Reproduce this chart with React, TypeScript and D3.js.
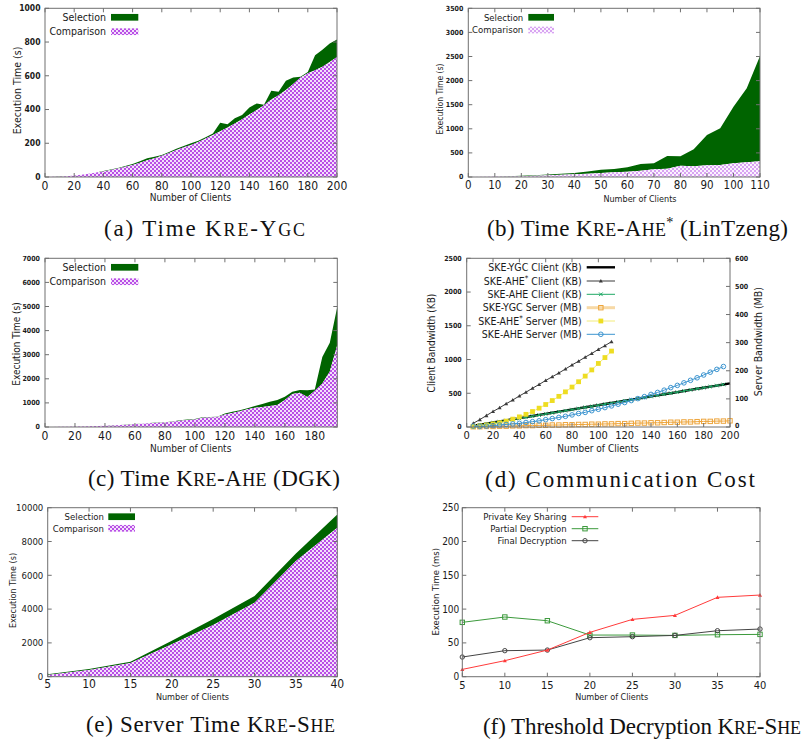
import React from "react";
import * as d3 from "d3";

const SANS = "'DejaVu Sans Condensed', 'DejaVu Sans', Verdana, sans-serif";
const SERIF = "'Liberation Serif', 'Times New Roman', serif";
const GREEN = "#006400";
const AXIS = "#707070";
const INK = "#1a1a1a";

// (a) Kre-Ygc
const clientsA = [0, 5, 10, 15, 20, 25, 30, 35, 40, 45, 50, 55, 60, 65, 70, 75, 80, 85, 90, 95, 100, 105, 110, 115, 120, 125, 130, 135, 140, 145, 150, 155, 160, 165, 170, 175, 180, 185, 190, 195, 200];
const comparisonA = [0, 1, 2, 5, 9, 13, 19, 26, 33, 42, 51, 61, 71, 85, 99, 111, 126, 142, 160, 176, 190, 208, 228, 249, 271, 293, 317, 343, 371, 397, 426, 460, 485, 516, 552, 590, 615, 633, 653, 682, 712];
const selectionA = [0, 0, 1, 0, 0, 1, 1, 1, 2, 2, 3, 4, 6, 8, 12, 9, 4, 6, 8, 8, 10, 7, 7, 9, 50, 19, 31, 24, 41, 39, 2, 51, 20, 54, 38, 4, 8, 89, 102, 109, 103];
const xTicksA = [0, 20, 40, 60, 80, 100, 120, 140, 160, 180, 200];
const yTicksA = [0, 200, 400, 600, 800, 1000];

// (b) Kre-Ahe* (LinTzeng)
const clientsB = [0, 5, 10, 15, 20, 25, 30, 35, 40, 45, 50, 55, 60, 65, 70, 75, 80, 85, 90, 95, 100, 105, 110];
const comparisonB = [0, 4, 8, 12, 18, 25, 35, 45, 55, 70, 83, 97, 110, 131, 159, 172, 235, 221, 242, 249, 284, 305, 325];
const selectionB = [0, 2, 4, 6, 7, 10, 15, 20, 30, 45, 69, 69, 91, 139, 125, 264, 194, 353, 629, 761, 1176, 1535, 2185];
const xTicksB = [0, 10, 20, 30, 40, 50, 60, 70, 80, 90, 100, 110];
const yTicksB = [0, 500, 1000, 1500, 2000, 2500, 3000, 3500];

// (c) Kre-Ahe (DGK)
const clientsC = [0, 5, 10, 15, 20, 25, 30, 35, 40, 45, 50, 55, 60, 65, 70, 75, 80, 85, 90, 95, 100, 105, 110, 115, 120, 125, 130, 135, 140, 145, 150, 155, 160, 165, 170, 175, 180, 185, 190, 195];
const comparisonC = [0, 3, 7, 11, 18, 23, 32, 42, 50, 65, 80, 95, 110, 130, 160, 180, 190, 215, 260, 290, 310, 380, 390, 410, 520, 580, 650, 740, 800, 830, 871, 913, 1120, 1369, 1425, 1240, 1500, 1800, 2300, 3400];
const selectionC = [0, 1, 1, 1, 2, 2, 3, 3, 5, 5, 5, 5, 10, 10, 10, 10, 10, 15, 20, 20, 20, 20, 20, 20, 40, 50, 50, 40, 70, 120, 179, 207, 138, 97, 110, 290, 60, 1100, 1200, 1590];
const xTicksC = [0, 20, 40, 60, 80, 100, 120, 140, 160, 180];
const yTicksC = [0, 1000, 2000, 3000, 4000, 5000, 6000, 7000];

// (d) communication cost
const clientsD = [5, 10, 15, 20, 25, 30, 35, 40, 45, 50, 55, 60, 65, 70, 75, 80, 85, 90, 95, 100, 105, 110, 115, 120, 125, 130, 135, 140, 145, 150, 155, 160, 165, 170, 175, 180, 185, 190, 195, 200];
const clientsDStar = [5, 10, 15, 20, 25, 30, 35, 40, 45, 50, 55, 60, 65, 70, 75, 80, 85, 90, 95, 100, 105, 110];
const clientsDAhe = [5, 10, 15, 20, 25, 30, 35, 40, 45, 50, 55, 60, 65, 70, 75, 80, 85, 90, 95, 100, 105, 110, 115, 120, 125, 130, 135, 140, 145, 150, 155, 160, 165, 170, 175, 180, 185, 190, 195];
const ygcClientKB = [18, 34, 50, 66, 82, 98, 115, 131, 147, 163, 179, 195, 211, 227, 243, 260, 276, 292, 308, 324, 340, 356, 372, 389, 405, 421, 437, 453, 469, 485, 501, 517, 534, 550, 566, 582, 598, 614, 630, 646];
const aheStarClientKB = [55, 110, 170, 230, 285, 345, 400, 460, 515, 575, 630, 690, 745, 800, 860, 920, 975, 1035, 1090, 1150, 1205, 1265];
const aheClientKB = [14, 30, 46, 62, 79, 95, 111, 128, 144, 160, 176, 193, 209, 225, 241, 258, 274, 290, 306, 323, 339, 355, 371, 388, 404, 420, 436, 452, 469, 485, 501, 517, 534, 550, 566, 582, 598, 614, 630];
const ygcServerMB = [1, 1, 2, 2, 3, 3, 4, 4, 5, 5, 6, 6, 7, 7, 8, 8, 9, 9, 10, 10, 11, 11, 12, 12, 13, 14, 14, 15, 15, 16, 17, 17, 18, 18, 19, 20, 20, 21, 21, 22];
const aheStarServerMB = [2, 4, 7, 11, 15, 21, 28, 36, 45, 55, 67, 80, 94, 109, 125, 142, 161, 181, 203, 226, 247, 270];
const aheServerMB = [3, 2, 3, 5, 7, 9, 11, 13, 16, 19, 22, 26, 30, 34, 38, 43, 48, 52, 58, 63, 69, 75, 81, 87, 94, 101, 108, 116, 123, 131, 140, 148, 157, 166, 175, 185, 195, 205, 215];
const xTicksD = [0, 20, 40, 60, 80, 100, 120, 140, 160, 180, 200];
const yTicksD = [0, 500, 1000, 1500, 2000, 2500];
const y2TicksD = [0, 100, 200, 300, 400, 500, 600];

// (e) server time Kre-She
const clientsE = [5, 10, 15, 20, 25, 30, 35, 40];
const comparisonE = [100, 394, 808, 1913, 3057, 4378, 6843, 8815];
const selectionE = [38, 60, 79, 217, 355, 394, 453, 789];
const xTicksE = [5, 10, 15, 20, 25, 30, 35, 40];
const yTicksE = [0, 2000, 4000, 6000, 8000, 10000];

// (f) threshold decryption Kre-She
const keySharing = [10.8, 23.7, 39.4, 65.6, 84.8, 90.7, 117.4, 120.8];
const partialDec = [80.4, 88.3, 82.8, 61.6, 61.6, 61.1, 62.1, 62.6];
const finalDec = [29.1, 38.5, 39.4, 57.7, 59.2, 61.1, 68, 70.5];
const yTicksF = [0, 50, 100, 150, 200, 250];

type Box = { l: number; r: number; t: number; b: number };
type TickStyle = { yFont: number; yBold: boolean; yGap: number; xFont: number; xDy: number };

function Frame({ box, x, y, xTicks, yTicks, st, y2, y2Ticks }: any) {
  const T = 4;
  return (
    <g fontFamily={SANS} fill={INK}>
      <rect x={box.l} y={box.t} width={box.r - box.l} height={box.b - box.t} fill="none" stroke={AXIS} strokeWidth={1} />
      {xTicks.map((v: number) => (
        <g key={"x" + v}>
          <line x1={x(v)} x2={x(v)} y1={box.b} y2={box.b - T} stroke={AXIS} />
          <line x1={x(v)} x2={x(v)} y1={box.t} y2={box.t + T} stroke={AXIS} />
          <text x={x(v)} y={box.b + st.xDy} textAnchor="middle" fontSize={st.xFont}>{v}</text>
        </g>
      ))}
      {yTicks.map((v: number) => (
        <g key={"y" + v}>
          <line x1={box.l} x2={box.l + T} y1={y(v)} y2={y(v)} stroke={AXIS} />
          {!y2 && <line x1={box.r} x2={box.r - T} y1={y(v)} y2={y(v)} stroke={AXIS} />}
          <text x={box.l - st.yGap} y={y(v)} dy="0.35em" textAnchor="end" fontSize={st.yFont} fontWeight={st.yBold ? "bold" : "normal"}>{v}</text>
        </g>
      ))}
      {y2 && y2Ticks.map((v: number) => (
        <g key={"y2" + v}>
          <line x1={box.r} x2={box.r - T} y1={y2(v)} y2={y2(v)} stroke={AXIS} />
          <text x={box.r + st.yGap} y={y2(v)} dy={v === 0 ? "0.2em" : "0.35em"} textAnchor="start" fontSize={st.yFont} fontWeight={st.yBold ? "bold" : "normal"}>{v}</text>
        </g>
      ))}
    </g>
  );
}

function AxisTitles({ yl, xl, yText }: any) {
  return (
    <g fontFamily={SANS} fill={INK}>
      <text transform={`translate(${yl.x},${yl.cy}) rotate(-90)`} textAnchor="middle" dominantBaseline="central" fontSize={yl.font}>{yText}</text>
      <text x={xl.cx} y={xl.by} textAnchor="middle" fontSize={xl.font}>Number of Clients</text>
    </g>
  );
}

function StackPanel({ box, xs, comp, sel, xDomain, yDomain, xTicks, yTicks, st, pattern, legend, yl, xl }: any) {
  const x = d3.scaleLinear().domain(xDomain).range([box.l, box.r]);
  const y = d3.scaleLinear().domain(yDomain).range([box.b, box.t]);
  const compArea = d3.area<number>().x((_, i) => x(xs[i])).y0(y(0)).y1((d) => y(d));
  const selArea = d3
    .area<number>()
    .x((_, i) => x(xs[i]))
    .y0((_, i) => y(comp[i]))
    .y1((d, i) => y(comp[i] + d));
  const lg = legend;
  return (
    <g>
      <path d={selArea(sel) || ""} fill={GREEN} />
      <path d={compArea(comp) || ""} fill={`url(#${pattern})`} />
      <Frame box={box} x={x} y={y} xTicks={xTicks} yTicks={yTicks} st={st} />
      <g fontFamily={SANS} fill={INK} fontSize={lg.font}>
        <text x={lg.tx} y={lg.c1} dy="0.35em" textAnchor="end">Selection</text>
        <rect x={lg.sx} y={lg.c1 - lg.sh / 2} width={lg.sw} height={lg.sh} fill={GREEN} />
        <text x={lg.tx} y={lg.c2} dy="0.35em" textAnchor="end">Comparison</text>
        <rect x={lg.sx} y={lg.c2 - lg.sh / 2} width={lg.sw} height={lg.sh} fill={`url(#${pattern})`} />
      </g>
      <AxisTitles yl={yl} xl={xl} yText="Execution Time (s)" />
    </g>
  );
}

function Marker({ kind, cx, cy, color, s = 2.2 }: any) {
  if (kind === "tri") {
    return <path d={`M${cx},${cy - s}L${cx + s},${cy + s * 0.8}L${cx - s},${cy + s * 0.8}Z`} fill={color} />;
  }
  if (kind === "x") {
    return <path d={`M${cx - s},${cy - s}L${cx + s},${cy + s}M${cx - s},${cy + s}L${cx + s},${cy - s}`} stroke={color} strokeWidth={1} />;
  }
  if (kind === "sq") {
    return <rect x={cx - s} y={cy - s} width={2 * s} height={2 * s} fill="none" stroke={color} strokeWidth={1} />;
  }
  if (kind === "fsq") {
    return <rect x={cx - s} y={cy - s} width={2 * s} height={2 * s} fill={color} />;
  }
  return <circle cx={cx} cy={cy} r={s} fill="none" stroke={color} strokeWidth={1} />;
}

function Series({ xs, vals, x, y, color, width = 1, kind, mcolor, s }: any) {
  const line = d3.line<number>().x((_, i) => x(xs[i])).y((d) => y(d));
  return (
    <g>
      <path d={line(vals) || ""} fill="none" stroke={color} strokeWidth={width} />
      {kind && vals.map((v: number, i: number) => <Marker key={i} kind={kind} cx={x(xs[i])} cy={y(v)} color={mcolor || color} s={s} />)}
    </g>
  );
}

// raised asterisk, then the rest of the text back on the baseline
function StarThen({ size, after, k = 0.62 }: { size: number; after: string; k?: number }) {
  const up = size * 0.38;
  return (
    <>
      <tspan dy={-up} fontSize={size * k}>*</tspan>
      <tspan dy={up}>{after}</tspan>
    </>
  );
}

function SmallCaps({ text, size }: { text: string; size: number }) {
  const parts: { t: string; low: boolean }[] = [];
  for (const ch of text) {
    const low = ch >= "a" && ch <= "z";
    const last = parts[parts.length - 1];
    if (last && last.low === low) last.t += ch;
    else parts.push({ t: ch, low });
  }
  return (
    <>
      {parts.map((p, i) =>
        p.low ? <tspan key={i} fontSize={size * 0.78}>{p.t.toUpperCase()}</tspan> : <tspan key={i}>{p.t}</tspan>
      )}
    </>
  );
}

const CAP = 23;
function Caption({ cx, by, w, children }: any) {
  return (
    <text x={cx} y={by} textAnchor="middle" fontFamily={SERIF} fontSize={CAP} textLength={w} lengthAdjust="spacing" fill="#111">
      {children}
    </text>
  );
}

function CommPanel() {
  const box: Box = { l: 466.7, r: 730, t: 258.3, b: 427 };
  const x = d3.scaleLinear().domain([0, 200]).range([box.l, box.r]);
  const y = d3.scaleLinear().domain([0, 2500]).range([box.b, box.t]);
  const y2 = d3.scaleLinear().domain([0, 600]).range([box.b, box.t]);
  const st: TickStyle = { yFont: 7, yBold: true, yGap: 5, xFont: 11, xDy: 12 };
  const rows = [267.3, 281, 294.3, 307.7, 321, 334.3];
  const lx0 = 586.7;
  const lx1 = 615;
  const mx = (lx0 + lx1) / 2;
  const LF = 10.5;
  return (
    <g>
      <Series xs={clientsD} vals={ygcClientKB} x={x} y={y} color="#000" width={2.4} />
      <Series xs={clientsDStar} vals={aheStarClientKB} x={x} y={y} color="#3a3a3a" kind="tri" s={2} />
      <Series xs={clientsDAhe} vals={aheClientKB} x={x} y={y} color="#1fa865" kind="x" s={1.8} />
      <Series xs={clientsD} vals={ygcServerMB} x={x} y={y2} color="#eda43a" kind="sq" s={2.2} />
      <Series xs={clientsDStar} vals={aheStarServerMB} x={x} y={y2} color="#f3ec7a" kind="fsq" mcolor="#eedd22" s={2.4} />
      <Series xs={clientsDAhe} vals={aheServerMB} x={x} y={y2} color="#3d95d0" kind="circ" s={2.3} />
      <Frame box={box} x={x} y={y} xTicks={xTicksD} yTicks={yTicksD} st={st} y2={y2} y2Ticks={y2TicksD} />
      <g fontFamily={SANS} fill={INK} fontSize={LF} textAnchor="end">
        <text x={581.7} y={rows[0]} dy="0.35em">SKE-YGC Client (KB)</text>
        <text x={581.7} y={rows[1]} dy="0.35em">SKE-AHE<StarThen size={LF} k={0.75} after=" Client (KB)" /></text>
        <text x={581.7} y={rows[2]} dy="0.35em">SKE-AHE Client (KB)</text>
        <text x={581.7} y={rows[3]} dy="0.35em">SKE-YGC Server (MB)</text>
        <text x={581.7} y={rows[4]} dy="0.35em">SKE-AHE<StarThen size={LF} k={0.75} after=" Server (MB)" /></text>
        <text x={581.7} y={rows[5]} dy="0.35em">SKE-AHE Server (MB)</text>
      </g>
      <line x1={lx0} x2={lx1} y1={rows[0]} y2={rows[0]} stroke="#000" strokeWidth={2.4} />
      <line x1={lx0} x2={lx1} y1={rows[1]} y2={rows[1]} stroke="#3a3a3a" />
      <Marker kind="tri" cx={mx} cy={rows[1]} color="#3a3a3a" s={2} />
      <line x1={lx0} x2={lx1} y1={rows[2]} y2={rows[2]} stroke="#1fa865" />
      <Marker kind="x" cx={mx} cy={rows[2]} color="#1fa865" s={1.8} />
      <line x1={lx0} x2={lx1} y1={rows[3]} y2={rows[3]} stroke="#f7d9a6" strokeWidth={3} />
      <Marker kind="sq" cx={mx} cy={rows[3]} color="#eda43a" s={2.2} />
      <line x1={lx0} x2={lx1} y1={rows[4]} y2={rows[4]} stroke="#f3ec7a" />
      <Marker kind="fsq" cx={mx} cy={rows[4]} color="#eedd22" s={2.4} />
      <line x1={lx0} x2={lx1} y1={rows[5]} y2={rows[5]} stroke="#3d95d0" />
      <Marker kind="circ" cx={mx} cy={rows[5]} color="#3d95d0" s={2.3} />
      <g fontFamily={SANS} fill={INK}>
        <text transform={`translate(431.7,343) rotate(-90)`} textAnchor="middle" dominantBaseline="central" fontSize={10}>Client Bandwidth (KB)</text>
        <text transform={`translate(757.5,341.7) rotate(-90)`} textAnchor="middle" dominantBaseline="central" fontSize={10.5}>Server Bandwidth (MB)</text>
        <text x={598} y={451.7} textAnchor="middle" fontSize={10}>Number of Clients</text>
      </g>
    </g>
  );
}

function ThresholdPanel() {
  const box: Box = { l: 462.3, r: 760, t: 507.7, b: 676.7 };
  const x = d3.scaleLinear().domain([5, 40]).range([box.l, box.r]);
  const y = d3.scaleLinear().domain([0, 250]).range([box.b, box.t]);
  const st: TickStyle = { yFont: 10, yBold: false, yGap: 3, xFont: 11, xDy: 12.3 };
  const rows = [516.7, 528.7, 540.7];
  const lx0 = 571.7;
  const lx1 = 598.3;
  const mx = (lx0 + lx1) / 2;
  return (
    <g>
      <Series xs={clientsE} vals={partialDec} x={x} y={y} color="#3c9a3c" kind="sq" s={2.2} />
      <Series xs={clientsE} vals={finalDec} x={x} y={y} color="#444" kind="circ" s={2.2} />
      <Series xs={clientsE} vals={keySharing} x={x} y={y} color="#ff3b3b" kind="tri" s={2} />
      <Frame box={box} x={x} y={y} xTicks={xTicksE} yTicks={yTicksF} st={st} />
      <g fontFamily={SANS} fill={INK} fontSize={9.5} textAnchor="end">
        <text x={566.7} y={rows[0]} dy="0.35em">Private Key Sharing</text>
        <text x={566.7} y={rows[1]} dy="0.35em">Partial Decryption</text>
        <text x={566.7} y={rows[2]} dy="0.35em">Final Decryption</text>
      </g>
      <line x1={lx0} x2={lx1} y1={rows[0]} y2={rows[0]} stroke="#ff3b3b" />
      <Marker kind="tri" cx={mx} cy={rows[0]} color="#ff3b3b" s={2} />
      <line x1={lx0} x2={lx1} y1={rows[1]} y2={rows[1]} stroke="#3c9a3c" />
      <Marker kind="sq" cx={mx} cy={rows[1]} color="#3c9a3c" s={2.2} />
      <line x1={lx0} x2={lx1} y1={rows[2]} y2={rows[2]} stroke="#444" />
      <Marker kind="circ" cx={mx} cy={rows[2]} color="#444" s={2.2} />
      <AxisTitles yl={{ x: 435.7, cy: 591.7, font: 9.5 }} xl={{ cx: 611.7, by: 700, font: 9 }} yText="Execution Time (ms)" />
    </g>
  );
}

export default function App() {
  return (
    <svg width={804} height={747} style={{ position: "absolute", left: 0, top: 0, background: "#fff" }}>
      <defs>
        <pattern id="chk" width={4} height={4} patternUnits="userSpaceOnUse">
          <rect width={4} height={4} fill="#f3e0fb" />
          <rect width={2} height={2} fill="#b94fe6" />
          <rect x={2} y={2} width={2} height={2} fill="#b94fe6" />
        </pattern>
        <pattern id="chkLight" width={4} height={4} patternUnits="userSpaceOnUse">
          <rect width={4} height={4} fill="#fbf3fe" />
          <rect width={2} height={2} fill="#d8a4f2" />
          <rect x={2} y={2} width={2} height={2} fill="#d8a4f2" />
        </pattern>
      </defs>

      <StackPanel
        box={{ l: 45, r: 337, t: 8.3, b: 177 }}
        xs={clientsA} comp={comparisonA} sel={selectionA}
        xDomain={[0, 200]} yDomain={[0, 1000]}
        xTicks={xTicksA} yTicks={yTicksA}
        st={{ yFont: 8.5, yBold: true, yGap: 4.5, xFont: 12, xDy: 12.5 }}
        pattern="chk"
        legend={{ tx: 106, sx: 111, sw: 27.3, sh: 6.7, c1: 17.3, c2: 31.7, font: 10.5 }}
        yl={{ x: 16.7, cy: 90.5, font: 10.5 }}
        xl={{ cx: 190.5, by: 201, font: 10 }}
      />
      <Caption cx={204.5} by={236} w={201}>(a) Time <SmallCaps text="Kre-Ygc" size={CAP} /></Caption>

      <StackPanel
        box={{ l: 468.3, r: 760, t: 8.3, b: 177 }}
        xs={clientsB} comp={comparisonB} sel={selectionB}
        xDomain={[0, 110]} yDomain={[0, 3500]}
        xTicks={xTicksB} yTicks={yTicksB}
        st={{ yFont: 7, yBold: true, yGap: 5, xFont: 11.5, xDy: 12.3 }}
        pattern="chkLight"
        legend={{ tx: 523.3, sx: 528.3, sw: 25.7, sh: 6.7, c1: 17.3, c2: 30, font: 9.5 }}
        yl={{ x: 440, cy: 99, font: 8.5 }}
        xl={{ cx: 640, by: 201.7, font: 9 }}
      />
      <Caption cx={637.5} by={236} w={301}>(b) Time <SmallCaps text="Kre-Ahe" size={CAP} /><StarThen size={CAP} after=" (LinTzeng)" /></Caption>

      <StackPanel
        box={{ l: 45, r: 337.3, t: 258.3, b: 427 }}
        xs={clientsC} comp={comparisonC} sel={selectionC}
        xDomain={[0, 195]} yDomain={[0, 7000]}
        xTicks={xTicksC} yTicks={yTicksC}
        st={{ yFont: 7, yBold: true, yGap: 5, xFont: 12, xDy: 12.5 }}
        pattern="chk"
        legend={{ tx: 106, sx: 111, sw: 27.3, sh: 6.7, c1: 267.3, c2: 281.7, font: 10.5 }}
        yl={{ x: 16.7, cy: 344, font: 10 }}
        xl={{ cx: 190.7, by: 451.7, font: 10 }}
      />
      <Caption cx={214} by={486} w={252}>(c) Time <SmallCaps text="Kre-Ahe" size={CAP} /> (DGK)</Caption>

      <CommPanel />
      <Caption cx={620} by={487} w={270}>(d) Communication Cost</Caption>

      <StackPanel
        box={{ l: 47.7, r: 337.3, t: 507.7, b: 676.7 }}
        xs={clientsE} comp={comparisonE} sel={selectionE}
        xDomain={[5, 40]} yDomain={[0, 10000]}
        xTicks={xTicksE} yTicks={yTicksE}
        st={{ yFont: 9.5, yBold: false, yGap: 4.4, xFont: 12, xDy: 11.6 }}
        pattern="chk"
        legend={{ tx: 104, sx: 108.3, sw: 26.7, sh: 6.7, c1: 516.7, c2: 528.3, font: 9.5 }}
        yl={{ x: 12.7, cy: 590.5, font: 9 }}
        xl={{ cx: 192.5, by: 700, font: 9 }}
      />
      <Caption cx={210.5} by={732} w={249}>(e) Server Time <SmallCaps text="Kre-She" size={CAP} /></Caption>

      <ThresholdPanel />
      <Caption cx={642} by={734} w={318}>(f) Threshold Decryption <SmallCaps text="Kre-She" size={CAP} /></Caption>
    </svg>
  );
}
